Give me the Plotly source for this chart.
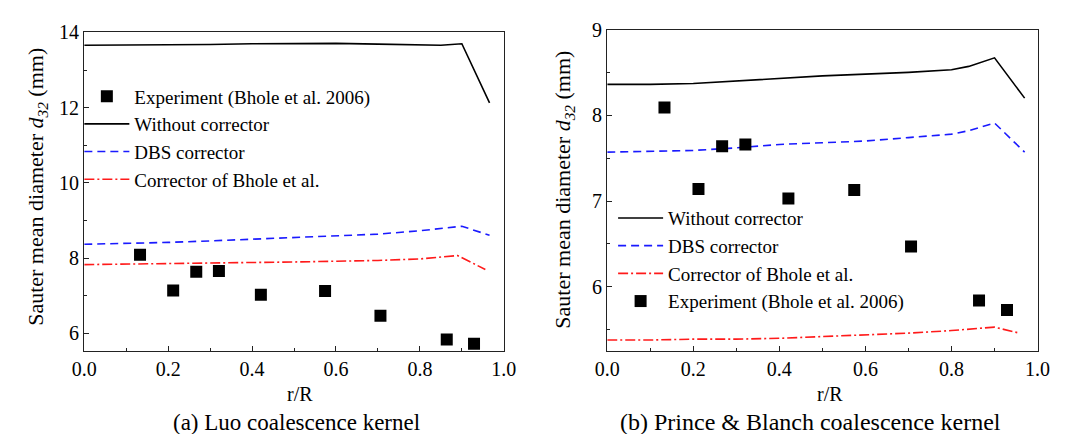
import plotly.graph_objects as go

# ---------------- data ----------------
exp_r = [0.133, 0.212, 0.267, 0.321, 0.421, 0.574, 0.706, 0.864, 0.929]
exp_d32 = [8.09, 7.14, 7.64, 7.66, 7.03, 7.13, 6.47, 5.84, 5.73]

# (a) Luo kernel
luo_r = [0.0, 0.1, 0.2, 0.3, 0.4, 0.5, 0.6, 0.7, 0.8, 0.85, 0.9, 0.966]
luo_without = [13.66, 13.66, 13.67, 13.68, 13.70, 13.71, 13.71, 13.69, 13.66, 13.66, 13.70, 12.13]
luo_dbs = [8.37, 8.39, 8.42, 8.46, 8.51, 8.55, 8.59, 8.64, 8.73, 8.78, 8.85, 8.61]
luo_bhole_r = [0.0, 0.1, 0.2, 0.3, 0.4, 0.5, 0.6, 0.7, 0.8, 0.85, 0.89, 0.956]
luo_bhole = [7.83, 7.84, 7.85, 7.86, 7.88, 7.90, 7.92, 7.94, 7.98, 8.02, 8.07, 7.70]

# (b) Prince & Blanch kernel
pb_r = [0.0, 0.1, 0.2, 0.3, 0.4, 0.5, 0.6, 0.7, 0.8, 0.84, 0.9, 0.97]
pb_without = [8.36, 8.36, 8.37, 8.40, 8.43, 8.46, 8.48, 8.50, 8.53, 8.57, 8.67, 8.20]
pb_dbs = [7.57, 7.58, 7.59, 7.62, 7.66, 7.68, 7.70, 7.74, 7.78, 7.82, 7.91, 7.57]
pb_bhole_r = [0.0, 0.1, 0.2, 0.3, 0.4, 0.5, 0.6, 0.7, 0.8, 0.85, 0.9, 0.958]
pb_bhole = [5.38, 5.38, 5.39, 5.39, 5.40, 5.42, 5.44, 5.46, 5.49, 5.51, 5.53, 5.46]

names = ["Experiment (Bhole et al. 2006)", "Without corrector", "DBS corrector", "Corrector of Bhole et al."]
xticks = [0.0, 0.2, 0.4, 0.6, 0.8, 1.0]
xticklabels = ["0.0", "0.2", "0.4", "0.6", "0.8", "1.0"]

FONT = "Liberation Serif"
BLUE = "#1a1aff"
RED = "#ff1a1a"
DBS_DASH = "8px,5px"
BH_DASH = "10px,3px,2px,3px"

fig = go.Figure()

# left panel (legend order: exp, without, dbs, bhole)
fig.add_trace(go.Scatter(x=exp_r, y=exp_d32, mode="markers", name=names[0],
                         marker=dict(symbol="square", size=12, color="black"),
                         xaxis="x", yaxis="y", legend="legend"))
fig.add_trace(go.Scatter(x=luo_r, y=luo_without, mode="lines", name=names[1],
                         line=dict(color="black", width=1.6),
                         xaxis="x", yaxis="y", legend="legend"))
fig.add_trace(go.Scatter(x=luo_r, y=luo_dbs, mode="lines", name=names[2],
                         line=dict(color=BLUE, width=1.6, dash=DBS_DASH),
                         xaxis="x", yaxis="y", legend="legend"))
fig.add_trace(go.Scatter(x=luo_bhole_r, y=luo_bhole, mode="lines", name=names[3],
                         line=dict(color=RED, width=1.6, dash=BH_DASH),
                         xaxis="x", yaxis="y", legend="legend"))

# right panel (legend order: without, dbs, bhole, exp)
fig.add_trace(go.Scatter(x=pb_r, y=pb_without, mode="lines", name=names[1],
                         line=dict(color="black", width=1.6),
                         xaxis="x2", yaxis="y2", legend="legend2"))
fig.add_trace(go.Scatter(x=pb_r, y=pb_dbs, mode="lines", name=names[2],
                         line=dict(color=BLUE, width=1.6, dash=DBS_DASH),
                         xaxis="x2", yaxis="y2", legend="legend2"))
fig.add_trace(go.Scatter(x=pb_bhole_r, y=pb_bhole, mode="lines", name=names[3],
                         line=dict(color=RED, width=1.6, dash=BH_DASH),
                         xaxis="x2", yaxis="y2", legend="legend2"))
fig.add_trace(go.Scatter(x=exp_r, y=exp_d32, mode="markers", name=names[0],
                         marker=dict(symbol="square", size=12, color="black"),
                         xaxis="x2", yaxis="y2", legend="legend2"))

W, H = 1073, 434

def px(v):
    return v / W

def py(v):
    return 1 - v / H

axis_common = dict(showline=True, linecolor="#222", linewidth=1.3, mirror=True,
                   ticks="inside", ticklen=5, tickcolor="#222", tickwidth=1.2,
                   showgrid=False, zeroline=False,
                   tickfont=dict(family=FONT, size=20, color="black"))

xcommon = dict(axis_common, range=[0, 1], tickvals=xticks, ticktext=xticklabels,
               minor=dict(dtick=0.1, ticks="inside", ticklen=3, tickcolor="#222", tickwidth=1.1))

ytitle = "Sauter mean diameter <i>d</i><sub><i>32</i></sub> (mm)"

def ann(text, x, y, size, angle=0):
    return dict(text=text, x=px(x), y=py(y), xref="paper", yref="paper",
                xanchor="center", yanchor="middle", showarrow=False, textangle=angle,
                font=dict(family=FONT, size=size, color="black"))

legend_common = dict(xanchor="left", yanchor="top", bgcolor="rgba(0,0,0,0)",
                     font=dict(family=FONT, size=19, color="black"),
                     itemwidth=45, tracegroupgap=0, traceorder="normal")

fig.update_layout(
    width=W, height=H,
    margin=dict(l=0, r=0, t=0, b=0),
    paper_bgcolor="white", plot_bgcolor="white",
    font=dict(family=FONT, color="black"),
    xaxis=dict(xcommon, domain=[px(73), px(503)], anchor="y"),
    yaxis=dict(axis_common, domain=[py(349), py(22)], anchor="x", range=[5.53, 14],
               dtick=2, tick0=0,
               minor=dict(dtick=1, ticks="inside", ticklen=3, tickcolor="#222", tickwidth=1.1)),
    xaxis2=dict(xcommon, domain=[px(609), px(1050)], anchor="y2"),
    yaxis2=dict(axis_common, domain=[py(349), py(19)], anchor="x2", range=[5.25, 9],
                dtick=1, tick0=0,
                minor=dict(dtick=0.5, ticks="inside", ticklen=3, tickcolor="#222", tickwidth=1.1)),
    legend=dict(legend_common, x=px(68), y=py(68)),
    legend2=dict(legend_common, x=px(615), y=py(193)),
    annotations=[
        ann(ytitle, 25, 180, 22, -90),
        ann(ytitle, 565, 183, 22, -90),
        ann("r/R", 294, 393, 20),
        ann("r/R", 837, 393, 20),
        ann("(a) Luo coalescence kernel", 291, 422, 23),
        ann("(b) Prince &amp; Blanch coalescence kernel", 817, 422, 24),
    ],
)

fig.write_html("out.html")
